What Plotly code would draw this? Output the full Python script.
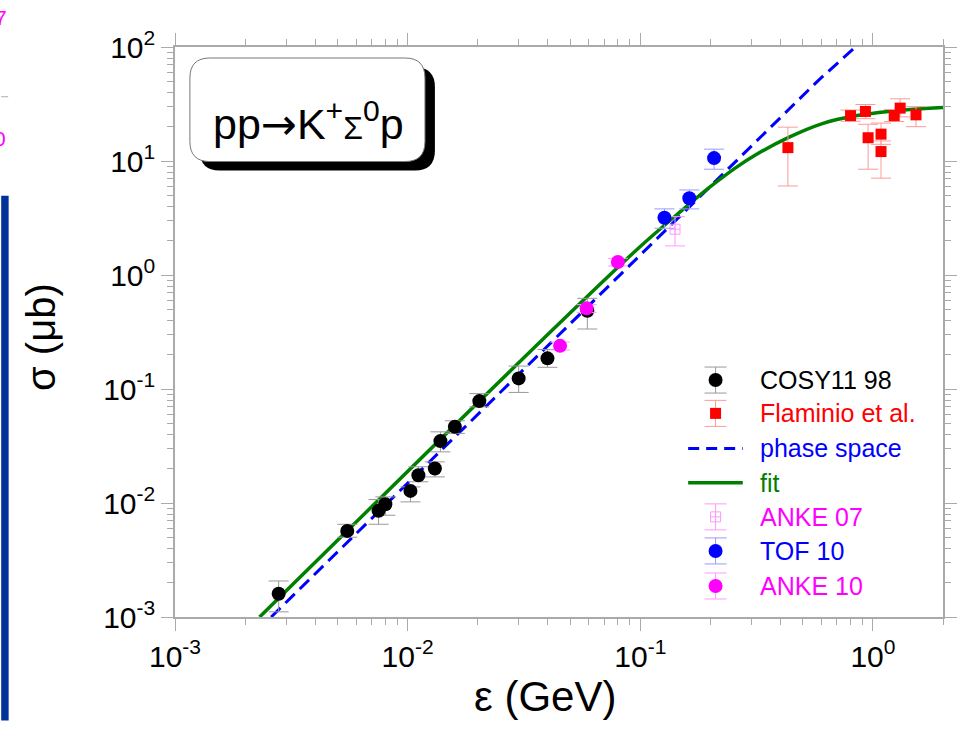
import plotly.graph_objects as go

# ---------------- data ----------------
cosy_x = [0.00279, 0.00550, 0.00750, 0.00802, 0.01028, 0.01112, 0.01309, 0.01383, 0.01596, 0.02033, 0.0300, 0.0399, 0.0592]
cosy_y = [0.00160, 0.00569, 0.00853, 0.00976, 0.01277, 0.01754, 0.02009, 0.0349, 0.0466, 0.0783, 0.1239, 0.1857, 0.486]
cosy_hi = [0.00207, 0.00651, 0.01073, 0.01131, 0.01384, 0.02079, 0.02294, 0.0421, 0.0526, 0.0911, 0.159, 0.222, 0.624]
cosy_lo = [0.00111, 0.00501, 0.00651, 0.00781, 0.01023, 0.01535, 0.01694, 0.0281, 0.0408, 0.0697, 0.0933, 0.155, 0.336]

flam_x = [0.431, 0.801, 0.928, 0.953, 1.083, 1.083, 1.234, 1.309, 1.531]
flam_y = [13.1, 25.0, 27.2, 16.0, 17.2, 12.1, 25.0, 29.1, 25.4]
flam_hi = [19.8, 28.0, 31.3, 21.0, 21.5, 15.0, 28.3, 35.1, 30.0]
flam_lo = [6.04, 22.3, 23.5, 8.47, 14.0, 7.07, 22.2, 24.4, 20.0]

anke07_x = [0.141]
anke07_y = [2.52]
anke07_hi = [3.25]
anke07_lo = [1.80]

tof_x = [0.127, 0.1624, 0.2075]
tof_y = [3.18, 4.71, 10.6]
tof_hi = [3.80, 5.57, 12.7]
tof_lo = [2.57, 3.80, 8.47]

anke10_x = [0.0452, 0.0588, 0.0801]
anke10_y = [0.239, 0.510, 1.30]
anke10_hi = [0.258, 0.550, 1.40]
anke10_lo = [0.220, 0.470, 1.20]

ps_x = [0.00259, 0.0441, 0.586, 0.841]
ps_y = [0.001, 0.29, 51.5, 100.0]

fit_x = [0.00231, 0.0441, 0.1, 0.15, 0.2, 0.2585, 0.315, 0.4365, 0.606, 0.841, 1.167, 2.0]
fit_y = [0.001, 0.364, 1.78, 3.65, 5.95, 8.8, 11.4, 16.2, 21.3, 24.9, 27.2, 29.4]

x_tickvals = [0.001, 0.01, 0.1, 1]
x_ticktext = ["10<sup>-3</sup>", "10<sup>-2</sup>", "10<sup>-1</sup>", "10<sup>0</sup>"]
y_tickvals = [0.001, 0.01, 0.1, 1, 10, 100]
y_ticktext = ["10<sup>-3</sup>", "10<sup>-2</sup>", "10<sup>-1</sup>", "10<sup>0</sup>", "10<sup>1</sup>", "10<sup>2</sup>"]

legend_names = ["COSY11 98", "Flaminio et al.", "phase space", "fit", "ANKE 07", "TOF 10", "ANKE 10"]
legend_colors = ["black", "#ff0000", "#0000ff", "#008000", "#ff00ff", "#0000ff", "#ff00ff"]

# ---------------- layout geometry ----------------
FW, FH = 969, 732
L, R, T, B = 175.0, 948.3, 47.3, 616.7
PW, PH = R - L, B - T
FONT = "Liberation Sans, Arial, Helvetica, sans-serif"


def fx(px):
    return (px - L) / PW


def fy(py):
    return (B - py) / PH


def minor_vals(lo_exp, hi_exp, maxval):
    out = []
    for e in range(lo_exp, hi_exp + 1):
        for m in range(2, 10):
            v = m * 10.0 ** e
            if v <= maxval:
                out.append(v)
    return out


fig = go.Figure()

# model curves
fig.add_trace(go.Scatter(x=ps_x, y=ps_y, mode="lines",
                         line=dict(color="#0000ff", width=3, dash="13px,7px"),
                         showlegend=False, hoverinfo="skip"))
fig.add_trace(go.Scatter(x=fit_x, y=fit_y, mode="lines",
                         line=dict(color="#008000", width=3.5, shape="spline", smoothing=1.0),
                         showlegend=False, hoverinfo="skip"))


def data_trace(xs, ys, hi, lo, color, ecolor, symbol, size, line=None):
    return go.Scatter(
        x=xs, y=ys, mode="markers",
        marker=dict(color=color, symbol=symbol, size=size,
                    line=line if line else dict(width=0)),
        error_y=dict(type="data", symmetric=False,
                     array=[h - y for h, y in zip(hi, ys)],
                     arrayminus=[y - l for l, y in zip(lo, ys)],
                     color=ecolor, thickness=1, width=10),
        showlegend=False, hoverinfo="skip")


fig.add_trace(data_trace(cosy_x, cosy_y, cosy_hi, cosy_lo, "black", "#999999", "circle", 14))
fig.add_trace(data_trace(flam_x, flam_y, flam_hi, flam_lo, "#ff0000", "#ff9999", "square", 11))
fig.add_trace(data_trace(anke07_x, anke07_y, anke07_hi, anke07_lo, "#ff99ff", "#ff99ff",
                         "square-cross-open", 10, line=dict(width=1, color="#ff99ff")))
fig.add_trace(data_trace(tof_x, tof_y, tof_hi, tof_lo, "#0000ff", "#9999ff", "circle", 14))
fig.add_trace(data_trace(anke10_x, anke10_y, anke10_hi, anke10_lo, "#ff00ff", "#ff99ff", "circle", 14))

# ---------------- manual legend (overlay axes 0..1) ----------------
leg_rows = [380.0, 413.3, 448.3, 482.7, 516.7, 550.7, 585.7]
mx = fx(719.3)
eh = 13.0 / PH
leg_markers = {
    0: ("black", "#999999", "circle", 14),
    1: ("#ff0000", "#ff9999", "square", 11),
    4: ("#ff99ff", "#ff99ff", "square-cross-open", 10),
    5: ("#0000ff", "#9999ff", "circle", 14),
    6: ("#ff00ff", "#ff99ff", "circle", 14),
}
for i, (c, ec, sym, sz) in leg_markers.items():
    fig.add_trace(go.Scatter(
        x=[mx], y=[fy(leg_rows[i])], mode="markers", xaxis="x2", yaxis="y2",
        marker=dict(color=c, symbol=sym, size=sz,
                    line=dict(width=1, color=c) if "open" in sym else dict(width=0)),
        error_y=dict(type="constant", value=eh, color=ec, thickness=1, width=11),
        showlegend=False, hoverinfo="skip"))
fig.add_trace(go.Scatter(x=[fx(691.7), fx(746.7)], y=[fy(leg_rows[2])] * 2, mode="lines",
                         xaxis="x2", yaxis="y2",
                         line=dict(color="#0000ff", width=3, dash="11px,7px"),
                         showlegend=False, hoverinfo="skip"))
fig.add_trace(go.Scatter(x=[fx(691.7), fx(746.7)], y=[fy(leg_rows[3])] * 2, mode="lines",
                         xaxis="x2", yaxis="y2",
                         line=dict(color="#008000", width=3.5),
                         showlegend=False, hoverinfo="skip"))

annotations = []
for name, col, row in zip(legend_names, legend_colors, leg_rows):
    annotations.append(dict(x=fx(762), y=fy(row), xref="paper", yref="paper",
                            text=name, showarrow=False, xanchor="left", yanchor="middle",
                            font=dict(family=FONT, size=25, color=col)))

# axis titles
annotations.append(dict(x=fx(548), y=fy(696), xref="paper", yref="paper", text="ε (GeV)",
                        showarrow=False, xanchor="center", yanchor="middle",
                        font=dict(family=FONT, size=42, color="black")))
annotations.append(dict(x=fx(40), y=fy(337), xref="paper", yref="paper", text="σ (μb)",
                        showarrow=False, xanchor="center", yanchor="middle", textangle=-90,
                        font=dict(family=FONT, size=40, color="black")))

# reaction label
annotations.append(dict(x=fx(309), y=fy(122), xref="paper", yref="paper",
                        text=("pp<span style='font-family:DejaVu Sans'>→</span>K<sup>+</sup>"
                              "<span style='font-size:32px'>Σ</span><sup>0</sup>p"),
                        showarrow=False, xanchor="center", yanchor="middle",
                        font=dict(family=FONT, size=43, color="black")))

# slide fragments at the far left
annotations.append(dict(x=fx(8), y=fy(4), xref="paper", yref="paper", text="7",
                        showarrow=False, xanchor="right", yanchor="top",
                        font=dict(family=FONT, size=21, color="#ff00ff")))
annotations.append(dict(x=fx(7), y=fy(125), xref="paper", yref="paper", text="0",
                        showarrow=False, xanchor="right", yanchor="top",
                        font=dict(family=FONT, size=21, color="#ff00ff")))


def rrect(x0, y0, x1, y1, r):
    # pixel coords -> paper path with rounded corners
    rx, ry = r / PW, r / PH
    X0, X1 = fx(x0), fx(x1)
    Y0, Y1 = fy(y0), fy(y1)  # Y0 top (bigger), Y1 bottom
    return (f"M {X0 + rx},{Y0} L {X1 - rx},{Y0} Q {X1},{Y0} {X1},{Y0 - ry} "
            f"L {X1},{Y1 + ry} Q {X1},{Y1} {X1 - rx},{Y1} "
            f"L {X0 + rx},{Y1} Q {X0},{Y1} {X0},{Y1 + ry} "
            f"L {X0},{Y0 - ry} Q {X0},{Y0} {X0 + rx},{Y0} Z")


shapes = [
    dict(type="path", xref="paper", yref="paper", path=rrect(200, 67.5, 436.7, 170.7, 20),
         fillcolor="black", line=dict(width=0), layer="above"),
    dict(type="path", xref="paper", yref="paper", path=rrect(190, 58.3, 426.7, 161.7, 20),
         fillcolor="white", line=dict(width=1, color="#777777"), layer="above"),
    dict(type="rect", xref="paper", yref="paper", x0=fx(0), x1=fx(7.5), y0=fy(720), y1=fy(196),
         fillcolor="#003399", line=dict(width=0), layer="above"),
    dict(type="line", xref="paper", yref="paper", x0=fx(0), x1=fx(7), y0=fy(97), y1=fy(97),
         line=dict(width=1, color="#aaaaaa")),
]

axis_common = dict(
    type="log", showgrid=False, zeroline=False,
    showline=True, linecolor="#aaaaaa", linewidth=1.5, mirror="ticks",
    ticks="outside", ticklen=12, tickwidth=1.2, tickcolor="#aaaaaa",
    tickfont=dict(family=FONT, size=30, color="black"),
)

fig.update_layout(
    width=FW, height=FH,
    margin=dict(l=L, r=FW - R, t=T, b=FH - B, pad=0),
    paper_bgcolor="white", plot_bgcolor="white",
    showlegend=False,
    xaxis=dict(range=[-3, 0.30103], tickvals=x_tickvals, ticktext=x_ticktext,
               minor=dict(tickvals=minor_vals(-3, 0, 2.0), ticklen=6, tickcolor="#aaaaaa",
                          ticks="outside", tickwidth=1, showgrid=False),
               **axis_common),
    yaxis=dict(range=[-3, 2], tickvals=y_tickvals, ticktext=y_ticktext,
               minor=dict(tickvals=minor_vals(-3, 1, 100.0), ticklen=6, tickcolor="#aaaaaa",
                          ticks="outside", tickwidth=1, showgrid=False),
               **axis_common),
    xaxis2=dict(overlaying="x", anchor="y2", range=[0, 1], visible=False, fixedrange=True),
    yaxis2=dict(overlaying="y", anchor="x2", range=[0, 1], visible=False, fixedrange=True),
    annotations=annotations,
    shapes=shapes,
)

fig.write_html("out.html")
